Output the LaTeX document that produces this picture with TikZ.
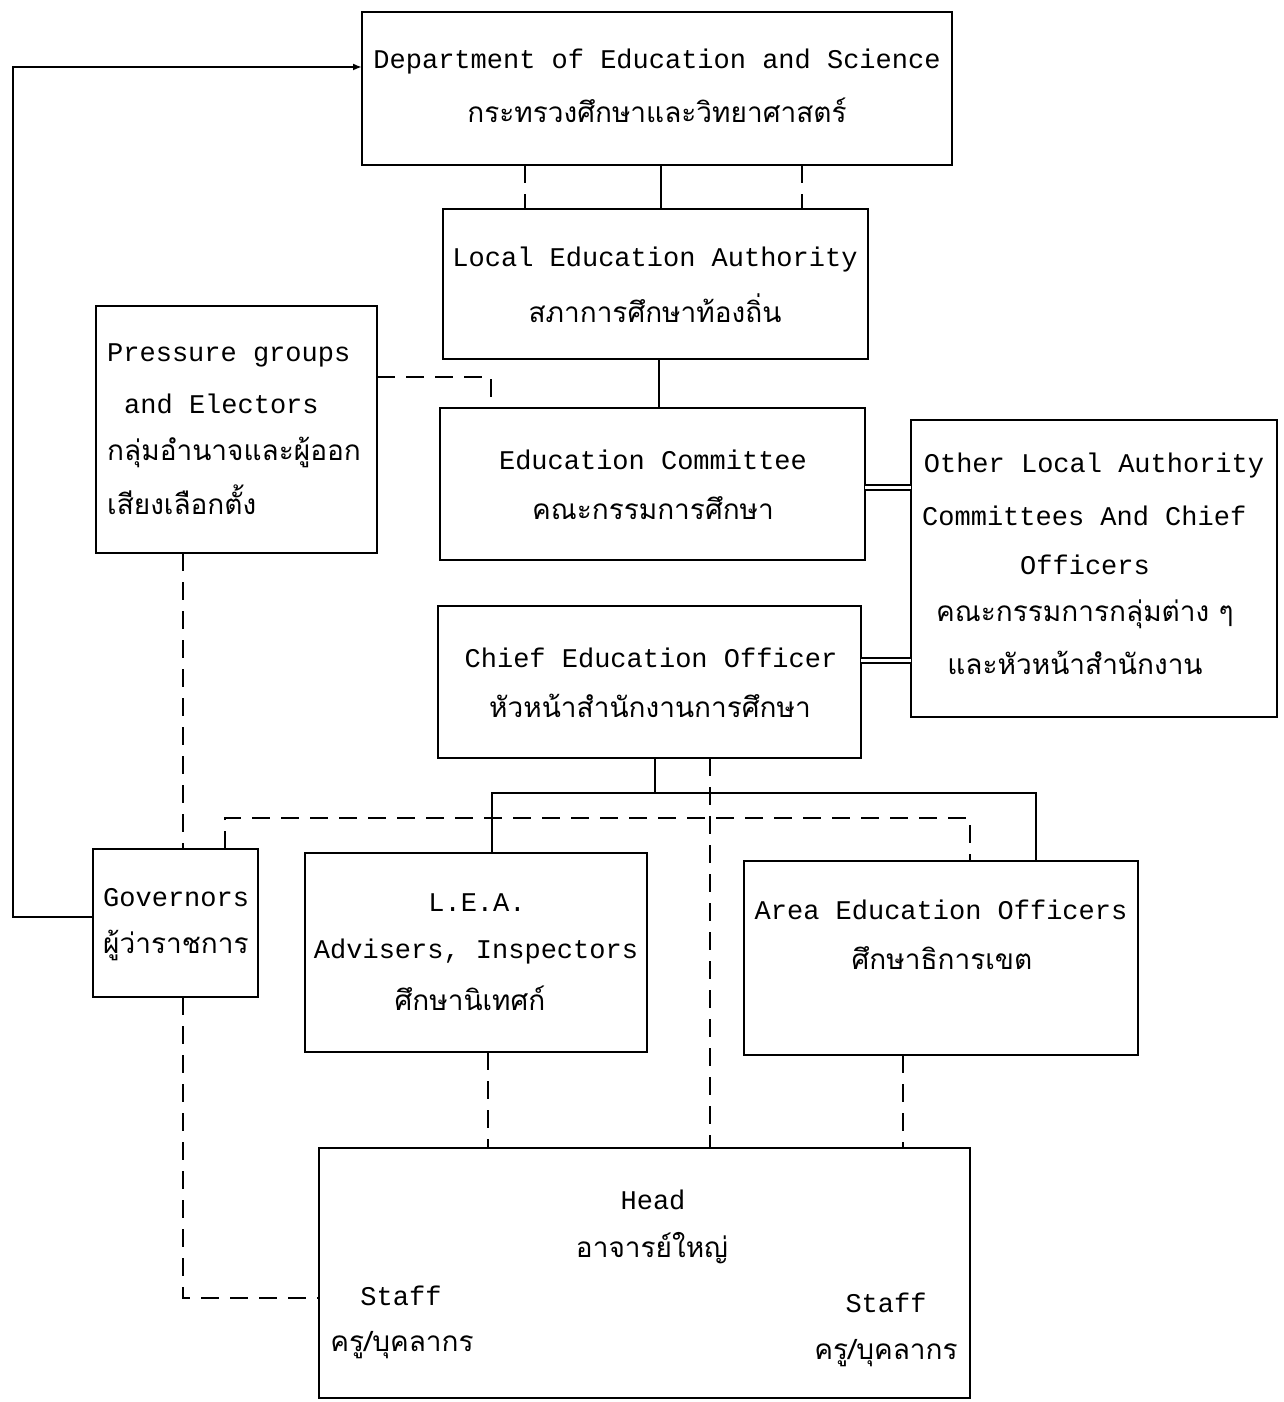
\documentclass[tikz,border=0pt]{standalone}
\usepackage{fontspec}
\usetikzlibrary{arrows.meta}
\newfontfamily\monofnt{Liberation Mono}
\newfontfamily\thaifnt[Script=Thai]{Loma}
\tikzset{
  box/.style={draw, line width=2.6pt, inner sep=0pt, outer sep=0pt, anchor=north west},
  en/.style={font=\monofnt\fontsize{27}{32}\selectfont, inner sep=0pt},
  th/.style={font=\thaifnt\fontsize{28}{34}\selectfont, inner sep=0pt},
  conn/.style={line width=2.4pt},
  dsh/.style={line width=2.2pt, dash pattern=on 18pt off 11pt},
  dbl/.style={line width=2pt, double, double distance=3pt}
}
\begin{document}
\begin{tikzpicture}[x=1pt,y=-1pt]
\useasboundingbox[fill=white] (0,0) rectangle (1284,1402);
% boxes
\node[box, minimum width=590pt, minimum height=153pt] (dept) at (362,12) {};
\node[box, minimum width=425pt, minimum height=150pt] (lea) at (443,209) {};
\node[box, minimum width=281pt, minimum height=247pt] (pg) at (96,306) {};
\node[box, minimum width=425pt, minimum height=152pt] (edc) at (440,408) {};
\node[box, minimum width=366pt, minimum height=297pt] (other) at (911,420) {};
\node[box, minimum width=423pt, minimum height=152pt] (ceo) at (438,606) {};
\node[box, minimum width=165pt, minimum height=148pt] (gov) at (93,849) {};
\node[box, minimum width=342pt, minimum height=199pt] (adv) at (305,853) {};
\node[box, minimum width=394pt, minimum height=194pt] (area) at (744,861) {};
\node[box, minimum width=651pt, minimum height=250pt] (head) at (319,1148) {};
% texts
\node[en] (t1) at (657,62) {Department of Education and Science};
\node[th] (t2) at (657,110) {กระทรวงศึกษาและวิทยาศาสตร์};
\node[en] (t3) at (655,260) {Local Education Authority};
\node[th] (t4) at (655,308) {สภาการศึกษาท้องถิ่น};
\node[en, anchor=west] (t5) at (107,355) {Pressure groups};
\node[en, anchor=west] (t6) at (124,404) {and Electors};
\node[th, anchor=west] (t7) at (107,452) {กลุ่มอำนาจและผู้ออก};
\node[th, anchor=west] (t8) at (107,500) {เสียงเลือกตั้ง};
\node[en] (t9) at (653,460) {Education Committee};
\node[th] (t10) at (653,508) {คณะกรรมการศึกษา};
\node[en] (t11) at (1094,466) {Other Local Authority};
\node[en, anchor=west] (t12) at (922,516) {Committees And Chief};
\node[en] (t13) at (1085,565) {Officers};
\node[th] (t14) at (1085,614) {คณะกรรมการกลุ่มต่าง ๆ};
\node[th] (t15) at (1075,663) {และหัวหน้าสำนักงาน};
\node[en] (t16) at (651,658) {Chief Education Officer};
\node[th] (t17) at (650,706) {หัวหน้าสำนักงานการศึกษา};
\node[en, anchor=west] (t18) at (103,898) {Governors};
\node[th, anchor=west] (t19) at (103,945) {ผู้ว่าราชการ};
\node[en] (t20) at (477,903) {L.E.A.};
\node[en] (t21) at (476,952) {Advisers, Inspectors};
\node[th] (t22) at (470,998) {ศึกษานิเทศก์};
\node[en] (t23) at (941,910) {Area Education Officers};
\node[th] (t24) at (942,958) {ศึกษาธิการเขต};
\node[en] (t25) at (653,1200) {Head};
\node[th] (t26) at (652,1248) {อาจารย์ใหญ่};
\node[en] (t27) at (401,1296) {Staff};
\node[th] (t28) at (402,1345) {ครู/บุคลากร};
\node[en] (t29) at (886,1303) {Staff};
\node[th] (t30) at (886,1353) {ครู/บุคลากร};
% helper coordinates
\coordinate (bus) at (655,793);
\coordinate (dl) at (600,818);
\coordinate (lp) at (13,67);
% connectors
\draw[conn] ([xshift=4pt]dept.south) -- ([xshift=4pt]dept.south |- lea.north);
\draw[dsh] ([xshift=-132pt]dept.south) -- ([xshift=-132pt]dept.south |- lea.north);
\draw[dsh] ([xshift=145pt]dept.south) -- ([xshift=145pt]dept.south |- lea.north);
\draw[conn] ([xshift=3.5pt]lea.south) -- ([xshift=3.5pt]lea.south |- edc.north);
\draw[dsh] ([yshift=52.5pt]pg.east) -| ([xshift=-161.5pt]edc.north);
\draw[dbl] ([yshift=-3pt]edc.east) -- ([yshift=-3pt]edc.east -| other.west);
\draw[dbl] ([yshift=22pt]ceo.east) -- ([yshift=22pt]ceo.east -| other.west);
\draw[conn] ([xshift=5.5pt]ceo.south) -- (bus);
\draw[conn] ([xshift=16pt]adv.north) |- (bus) -| ([xshift=95pt]area.north);
\draw[dsh] ([xshift=60.5pt]ceo.south) -- ([xshift=60.5pt]ceo.south |- head.north);
\draw[dsh] ([xshift=49.5pt]gov.north) |- (dl) -| ([xshift=29pt]area.north);
\draw[dsh] ([xshift=-53.5pt]pg.south) -- ([xshift=-53.5pt]pg.south |- gov.north);
\draw[dsh] ([xshift=7.5pt]gov.south) |- ([yshift=-25pt]head.west);
\draw[dsh] ([xshift=12pt]adv.south) -- ([xshift=12pt]adv.south |- head.north);
\draw[dsh] ([xshift=-38pt]area.south) -- ([xshift=-38pt]area.south |- head.north);
\draw[conn, -{Latex[length=9pt,width=7pt]}] ([yshift=6pt]gov.west) -| (lp) -- ([yshift=21.5pt]dept.west);
\end{tikzpicture}
\end{document}
